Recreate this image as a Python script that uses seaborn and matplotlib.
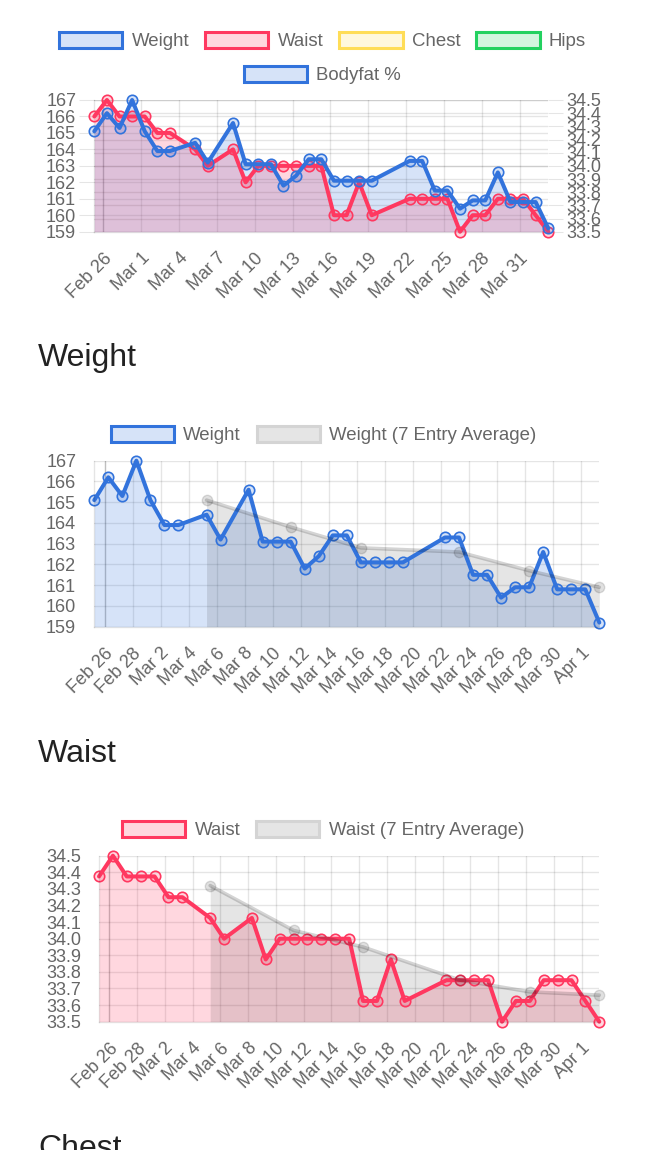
import matplotlib

matplotlib.use("Agg")
import matplotlib.dates as mdates
import matplotlib.pyplot as plt
import pandas as pd
import seaborn as sns
from matplotlib.colors import to_rgba
from matplotlib.patches import Patch
from matplotlib.ticker import FormatStrFormatter

# ---- data ------------------------------------------------------------------
ENTRY_DAYS = [
    "2019-02-25", "2019-02-26", "2019-02-27", "2019-02-28", "2019-03-01",
    "2019-03-02", "2019-03-03", "2019-03-05", "2019-03-06", "2019-03-08",
    "2019-03-09", "2019-03-10", "2019-03-11", "2019-03-12", "2019-03-13",
    "2019-03-14", "2019-03-15", "2019-03-16", "2019-03-17", "2019-03-18",
    "2019-03-19", "2019-03-22", "2019-03-23", "2019-03-24", "2019-03-25",
    "2019-03-26", "2019-03-27", "2019-03-28", "2019-03-29", "2019-03-30",
    "2019-03-31", "2019-04-01", "2019-04-02",
]
WEIGHT = [
    165.1, 166.2, 165.3, 167.0, 165.1, 163.9, 163.9, 164.4, 163.2, 165.6,
    163.1, 163.1, 163.1, 161.8, 162.4, 163.4, 163.4, 162.1, 162.1, 162.1,
    162.1, 163.3, 163.3, 161.5, 161.5, 160.4, 160.9, 160.9, 162.6, 160.8,
    160.8, 160.8, 159.2,
]
WAIST = [
    34.375, 34.5, 34.375, 34.375, 34.375, 34.25, 34.25, 34.125, 34.0, 34.125,
    33.875, 34.0, 34.0, 34.0, 34.0, 34.0, 34.0, 33.625, 33.625, 33.875,
    33.625, 33.75, 33.75, 33.75, 33.75, 33.5, 33.625, 33.625, 33.75, 33.75,
    33.75, 33.625, 33.5,
]
AVG_DAYS = ["2019-03-05", "2019-03-11", "2019-03-16", "2019-03-23", "2019-03-28", "2019-04-02"]
WEIGHT_AVG = [165.1, 163.8, 162.8, 162.6, 161.7, 160.9]
WAIST_AVG = [34.32, 34.05, 33.95, 33.75, 33.68, 33.66]

WEIGHT_TICKS = [159, 160, 161, 162, 163, 164, 165, 166, 167]
WAIST_TICKS = [33.5, 33.6, 33.7, 33.8, 33.9, 34.0, 34.1, 34.2, 34.3, 34.4, 34.5]

TOP_LABELS = ["Weight", "Waist", "Chest", "Hips"]
TOP_LABELS_ROW2 = ["Bodyfat %"]
HEADINGS = ["Weight", "Waist", "Chest"]

BLUE = "#3273dc"
RED = "#ff3860"
YELLOW = "#ffdd57"
GREEN = "#23d160"
GRID = (0, 0, 0, 0.1)
AVG_LINE = (0, 0, 0, 0.17)
AVG_FILL = (0, 0, 0, 0.1)
AVG_KEY_FACE = "#e5e5e5"
AVG_KEY_EDGE = "#d4d4d4"
TEXT = "#666666"

W, H = 647, 1150
ENTRY_TIME = pd.Timedelta(hours=6, minutes=30)


def fill(color, alpha=0.2):
    return to_rgba(color, alpha)


def rect(left, top, right, bottom):
    return [left / W, 1 - bottom / H, (right - left) / W, (bottom - top) / H]


def style_axis(ax, ticks):
    ax.set_xticks(ticks)
    ax.xaxis.set_major_formatter(mdates.DateFormatter("%b %-d"))
    ax.grid(True, color="black", alpha=0.1, linewidth=1.0)
    ax.tick_params(axis="both", length=11, width=0.8, color=GRID,
                   labelsize=13, labelcolor=TEXT, pad=2)
    plt.setp(ax.get_xticklabels(), rotation=45, ha="right", rotation_mode="anchor")
    for side in ("top", "right"):
        ax.spines[side].set_visible(False)
    for side in ("left", "bottom"):
        ax.spines[side].set_color(GRID)
        ax.spines[side].set_linewidth(1.0)
    # chart.js draws the first tick of the time axis as a darker "zero line"
    ax.get_xgridlines()[0].set_alpha(0.25)
    ax.xaxis.get_major_ticks()[0].tick1line.set_color((0, 0, 0, 0.25))
    ax.set_xlabel("")
    ax.set_ylabel("")


def draw_fill(ax, x, y, color, base):
    ax.fill_between(x, y, base, color=fill(color), linewidth=0)


def draw_line(ax, x, y, color, **kw):
    sns.lineplot(x=x, y=y, ax=ax, color=color, linewidth=2.9, marker="o",
                 markersize=7.5, markerfacecolor=fill(color),
                 markeredgecolor=color, markeredgewidth=1.2,
                 estimator=None, sort=False, **kw)


def draw_series(ax, x, y, color, base):
    draw_fill(ax, x, y, color, base)
    draw_line(ax, x, y, color)


def draw_average(ax, x, y, base):
    ax.fill_between(x, y, base, color=AVG_FILL, linewidth=0)
    sns.lineplot(x=x, y=y, ax=ax, color=AVG_LINE, linewidth=2.6, marker="o",
                 markersize=7.5, markerfacecolor=(0, 0, 0, 0.12),
                 markeredgecolor=(0, 0, 0, 0.12), markeredgewidth=1.0,
                 estimator=None, sort=False)


def legend(fig, labels, faces, edges, cx, cy, ncol):
    handles = [
        Patch(facecolor=f, edgecolor=e, linewidth=2.2, label=lab)
        for lab, f, e in zip(labels, faces, edges)
    ]
    fig.legend(handles=handles, loc="center", bbox_to_anchor=(cx / W, 1 - cy / H),
               ncol=ncol, frameon=False, fontsize=13.4, labelcolor=TEXT,
               handlelength=3.4, handleheight=1.0, handletextpad=0.5,
               columnspacing=0.85, borderaxespad=0, borderpad=0)


def unclip(ax):
    for line in ax.lines:
        line.set_clip_on(False)


sns.set_theme(style="white")
plt.rcParams["font.family"] = ["Liberation Sans", "DejaVu Sans"]

dates = pd.to_datetime(ENTRY_DAYS) + ENTRY_TIME
avg_dates = pd.to_datetime(AVG_DAYS) + ENTRY_TIME
xlim = (dates[0], dates[-1])

fig = plt.figure(figsize=(W / 100, H / 100), dpi=100)

# ---- overview chart -----------------------------------------------------------
# fills first, then the waist line, then the weight line on top (chart.js order)
ax1 = fig.add_axes(rect(94.3, 100, 548.3, 231.7))
ax1r = ax1.twinx()
ax1r.patch.set_visible(False)
draw_fill(ax1, dates, WEIGHT, BLUE, WEIGHT_TICKS[0])
draw_fill(ax1r, dates, WAIST, RED, WAIST_TICKS[0])
draw_line(ax1r, dates, WAIST, RED)
draw_line(ax1r, dates, WEIGHT, BLUE, transform=ax1.transData)
ax1.set_xlim(xlim)
ax1.set_ylim(WEIGHT_TICKS[0], WEIGHT_TICKS[-1])
ax1.set_yticks(WEIGHT_TICKS)
ax1r.set_xlim(xlim)
ax1r.set_ylim(WAIST_TICKS[0], WAIST_TICKS[-1])
ax1r.set_yticks(WAIST_TICKS)
ax1r.yaxis.set_major_formatter(FormatStrFormatter("%.1f"))
style_axis(ax1, pd.date_range("2019-02-26", "2019-03-31", freq="3D"))
ax1r.grid(True, axis="y", color="black", alpha=0.1, linewidth=1.0)
ax1r.tick_params(axis="y", length=11, width=0.8, color=GRID, labelsize=13,
                 labelcolor=TEXT, pad=2)
for spine in ax1r.spines.values():
    spine.set_visible(False)
ax1r.set_ylabel("")
unclip(ax1r)
top_colors = [BLUE, RED, YELLOW, GREEN]
legend(fig, TOP_LABELS, [fill(c) for c in top_colors], top_colors, 322.5, 41, 4)
legend(fig, TOP_LABELS_ROW2, [fill(BLUE)], [BLUE], 322.5, 75, 1)

# ---- weight chart -------------------------------------------------------------
ax2 = fig.add_axes(rect(94.3, 460.7, 599.3, 626.7))
draw_series(ax2, dates, WEIGHT, BLUE, WEIGHT_TICKS[0])
draw_average(ax2, avg_dates, WEIGHT_AVG, WEIGHT_TICKS[0])
ax2.set_xlim(xlim)
ax2.set_ylim(WEIGHT_TICKS[0], WEIGHT_TICKS[-1])
ax2.set_yticks(WEIGHT_TICKS)
style_axis(ax2, pd.date_range("2019-02-26", "2019-04-01", freq="2D"))
unclip(ax2)
legend(fig, ["Weight", "Weight (7 Entry Average)"], [fill(BLUE), AVG_KEY_FACE],
       [BLUE, AVG_KEY_EDGE], 323.5, 435, 2)

# ---- waist chart --------------------------------------------------------------
ax3 = fig.add_axes(rect(99, 855.7, 599.3, 1021.7))
draw_series(ax3, dates, WAIST, RED, WAIST_TICKS[0])
draw_average(ax3, avg_dates, WAIST_AVG, WAIST_TICKS[0])
ax3.set_xlim(xlim)
ax3.set_ylim(WAIST_TICKS[0], WAIST_TICKS[-1])
ax3.set_yticks(WAIST_TICKS)
ax3.yaxis.set_major_formatter(FormatStrFormatter("%.1f"))
style_axis(ax3, pd.date_range("2019-02-26", "2019-04-01", freq="2D"))
unclip(ax3)
legend(fig, ["Waist", "Waist (7 Entry Average)"], [fill(RED), AVG_KEY_FACE],
       [RED, AVG_KEY_EDGE], 323, 830, 2)

# ---- section headings ---------------------------------------------------------
for text, baseline in zip(HEADINGS, [366, 762, 1157]):
    fig.text(38 / W, 1 - baseline / H, text, fontsize=23, color="#222222", va="baseline")

fig.savefig("out.png", dpi=100)
plt.close(fig)
